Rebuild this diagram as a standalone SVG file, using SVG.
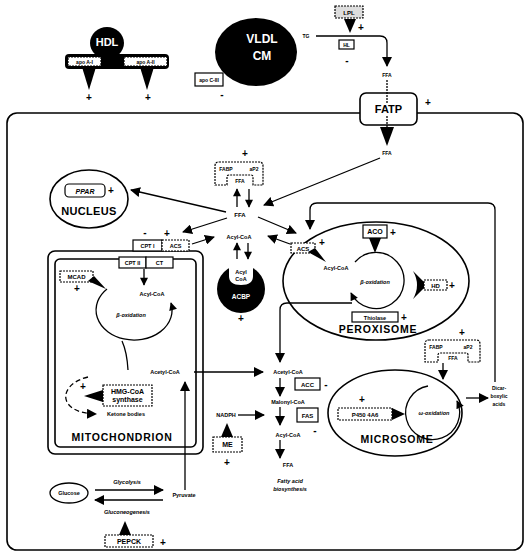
<svg xmlns="http://www.w3.org/2000/svg" width="529" height="553" viewBox="0 0 529 553">
<defs>
<marker id="ah" viewBox="0 0 10 10" refX="9" refY="5" markerWidth="9" markerHeight="8" markerUnits="userSpaceOnUse" orient="auto"><path d="M0,0 L10,5 L0,10 z" fill="#000"/></marker>
<marker id="ahb" viewBox="0 0 10 10" refX="9" refY="5" markerWidth="10" markerHeight="10" markerUnits="userSpaceOnUse" orient="auto"><path d="M0,0 L10,5 L0,10 z" fill="#000"/></marker>
</defs>
<style>
text{font-family:"Liberation Sans",Arial,sans-serif;font-weight:bold;fill:#000;text-anchor:middle}
.s{font-size:6px}
.m{font-size:7px}
.i{font-style:italic}
.w{fill:#fff}
.big{font-size:10.5px;letter-spacing:0.8px}
.sg{font-size:10px}
.ln{fill:none;stroke:#000;stroke-width:1.3}
.box{fill:#fff;stroke:#000;stroke-width:1.2}
.dbox{fill:#fff;stroke:#000;stroke-width:1.2;stroke-dasharray:2,1}
.org{fill:none;stroke:#000;stroke-width:1.6}
.blk{fill:#000}
</style>
<rect width="529" height="553" fill="#fff"/>

<g id="cell"><rect x="7" y="113" width="516" height="437" rx="10" class="org"/></g>

<g id="hdl">
<ellipse cx="107" cy="43" rx="17" ry="16" class="blk"/>
<rect x="65" y="54" width="104" height="15" rx="4" class="blk"/>
<polygon points="82,67 96,67 89,90" class="blk"/>
<polygon points="140,67 154,67 147,90" class="blk"/>
<rect x="68" y="57" width="33" height="9" class="dbox"/>
<rect x="124" y="57" width="43" height="9" class="dbox"/>
<text x="107" y="46" class="w" style="font-size:11px">HDL</text>
<text x="84.5" y="63.5" class="s" style="font-size:5px">apo A-I</text>
<text x="145.5" y="63.5" class="s" style="font-size:5px">apo A-II</text>
<text x="89" y="101" class="sg">+</text>
<text x="148" y="101" class="sg">+</text>
</g>

<g id="vldl">
<ellipse cx="256" cy="52" rx="41" ry="34" class="blk"/>
<text x="262" y="43" class="w" style="font-size:12px">VLDL</text>
<text x="262" y="60" class="w" style="font-size:12px">CM</text>
<rect x="195" y="73" width="28" height="13" class="box"/>
<text x="209" y="81.5" class="s" style="font-size:5px">apo C-III</text>
<text x="222" y="98" class="sg">-</text>
</g>

<g id="lpl">
<rect x="335" y="6" width="28" height="12" class="dbox" style="fill:#ddd"/>
<text x="349" y="14.5" class="s">LPL</text>
<polygon points="344,19 356,19 350,33" class="blk"/>
<text x="361" y="31" class="sg">+</text>
</g>
<g id="hl">
<rect x="339" y="40" width="15" height="9" class="box"/>
<text x="346.5" y="46.5" class="s" style="font-size:5px">HL</text>
<text x="347" y="64" class="sg">-</text>
<text x="306" y="38" class="s" style="font-size:5px">TG</text>
<text x="387" y="77" class="s" style="font-size:5px">FFA</text>
</g>

<g id="fatp">
<rect x="360" y="93" width="57" height="32" rx="6" fill="#fff" stroke="#000" stroke-width="1.6"/>
<text x="388.5" y="113" style="font-size:11px">FATP</text>
<text x="428" y="106" class="sg">+</text>
<text x="387" y="155" class="s" style="font-size:5px">FFA</text>
</g>

<g id="nucleus">
<ellipse cx="89" cy="199" rx="39" ry="29" class="org"/>
<rect x="65" y="184" width="40" height="13" rx="4" class="box"/>
<text x="85" y="193.5" class="m i">PPAR</text>
<text x="111" y="194" class="sg">+</text>
<text x="89" y="215" class="big" style="font-size:11px;letter-spacing:0.3px">NUCLEUS</text>
</g>

<g id="fabp1">
<path d="M219,162 H259 Q263,162 263,166 V185 H253 V177 Q253,175 251,175 H229 Q227,175 227,177 V185 H215 V166 Q215,162 219,162 Z" class="dbox"/>
<text x="226" y="171" class="s" style="font-size:5px">FABP</text>
<text x="254" y="171" class="s" style="font-size:5px">aP2</text>
<text x="240" y="183" class="s" style="font-size:5px">FFA</text>
<text x="245" y="157" class="sg">+</text>
</g>

<g id="center">
<text x="240" y="217" class="s">FFA</text>
<text x="239" y="239" class="s" style="font-size:5.5px">Acyl-CoA</text>
</g>

<g id="acbp">
<circle cx="241" cy="289" r="24" class="blk"/>
<path d="M229,263 V276 Q229,285 241,285 Q253,285 253,276 V263 Z" fill="#fff"/>
<text x="241" y="274" class="s" style="font-size:5.5px">Acyl</text>
<text x="241" y="281" class="s" style="font-size:5.5px">CoA</text>
<text x="241" y="299" class="w s" style="font-size:6.5px">ACBP</text>
<text x="241" y="322" class="sg">+</text>
</g>

<g id="mitochondrion">
<rect x="48" y="251" width="155" height="203" rx="7" class="org"/>
<rect x="55" y="259" width="141" height="188" rx="5" class="org"/>
<rect x="133" y="240" width="29" height="11" class="box"/>
<text x="147.5" y="247.5" class="s" style="font-size:5.5px">CPT I</text>
<rect x="162" y="240" width="27" height="11" class="dbox"/>
<text x="175.5" y="247.5" class="s" style="font-size:5.5px">ACS</text>
<text x="145" y="236" class="sg">-</text>
<text x="167" y="237" class="sg">+</text>
<rect x="119" y="257" width="27" height="11" class="box"/>
<text x="132.5" y="264.5" class="s" style="font-size:5.5px">CPT II</text>
<rect x="146" y="257" width="27" height="11" class="box"/>
<text x="159.5" y="264.5" class="s" style="font-size:5.5px">CT</text>
<rect x="60" y="271" width="33" height="11" class="dbox"/>
<text x="76.5" y="279" class="s">MCAD</text>
<polygon points="88,281 94,276 106,289" class="blk"/>
<text x="77" y="292" class="sg">+</text>
<text x="152" y="296" class="s" style="font-size:5.5px">Acyl-CoA</text>
<text x="131" y="317" class="s i" style="font-size:5.5px">β-oxidation</text>
<text x="165" y="374" class="s" style="font-size:5.5px">Acetyl-CoA</text>
<rect x="103" y="385" width="49" height="21" class="dbox"/>
<text x="127.5" y="394" class="m">HMG-CoA</text>
<text x="127.5" y="402" class="m">synthase</text>
<polygon points="103,390 103,402 84,396" class="blk"/>
<text x="83" y="390" class="sg">+</text>
<text x="126" y="416" class="s" style="font-size:5.5px">Ketone bodies</text>
<text x="122" y="441" class="big">MITOCHONDRION</text>
</g>

<g id="peroxisome">
<ellipse cx="376" cy="281" rx="93" ry="59" class="org"/>
<rect x="291" y="243" width="24" height="10" class="dbox"/>
<text x="303" y="250.5" class="s">ACS</text>
<text x="322" y="246" class="sg">+</text>
<polygon points="308,252 315,248 326,262" class="blk"/>
<text x="336" y="270" class="s" style="font-size:5.5px">Acyl-CoA</text>
<rect x="363" y="225" width="24" height="13" class="box"/>
<text x="375" y="234" class="m">ACO</text>
<text x="393" y="236" class="sg">+</text>
<polygon points="369,238 381,238 375,253" class="blk"/>
<text x="375" y="284" class="s i" style="font-size:5.5px">β-oxidation</text>
<path d="M413,271 Q421,285 413,299 L427,285 Z" class="blk"/>
<rect x="424" y="280" width="23" height="10" class="dbox"/>
<text x="435.5" y="287.5" class="s">HD</text>
<text x="452" y="289" class="sg">+</text>
<rect x="352" y="312" width="46" height="10" class="box"/>
<text x="375" y="319.5" class="s" style="font-size:5.5px">Thiolase</text>
<text x="404" y="321" class="sg">+</text>
<text x="378" y="333" class="big">PEROXISOME</text>
</g>

<g id="fas">
<text x="288" y="374" class="s" style="font-size:5.5px">Acetyl-CoA</text>
<rect x="295" y="378" width="25" height="12" class="box"/>
<text x="307.5" y="386.5" class="s">ACC</text>
<text x="326" y="388" class="sg">-</text>
<text x="288" y="404" class="s" style="font-size:5.5px">Malonyl-CoA</text>
<rect x="297" y="408" width="21" height="14" class="box"/>
<text x="307.5" y="417.5" class="s">FAS</text>
<text x="288" y="437" class="s" style="font-size:5.5px">Acyl-CoA</text>
<text x="315" y="434" class="sg">-</text>
<text x="288" y="467" class="s" style="font-size:5.5px">FFA</text>
<text x="290" y="483" class="s i" style="font-size:5.5px">Fatty acid</text>
<text x="290" y="491" class="s i" style="font-size:5.5px">biosynthesis</text>
<text x="226" y="417" class="s" style="font-size:5.5px">NADPH</text>
</g>

<g id="me">
<polygon points="221,437 233,437 227,423" class="blk"/>
<rect x="213" y="437" width="29" height="15" class="dbox"/>
<text x="227.5" y="447" class="m">ME</text>
<text x="227" y="466" class="sg">+</text>
</g>

<g id="microsome">
<ellipse cx="395" cy="413" rx="67" ry="43" class="org"/>
<text x="362" y="403" class="sg">+</text>
<rect x="338" y="408" width="54" height="12" class="dbox"/>
<text x="365" y="416.5" class="s">P450 4A6</text>
<polygon points="392,408 392,420 405,414" class="blk"/>
<text x="434" y="415" class="s i" style="font-size:5.5px">ω-oxidation</text>
<text x="397" y="443" class="big">MICROSOME</text>
</g>

<g id="fabp2">
<path d="M429,340 H476 Q480,340 480,344 V362 H468 V355 Q468,353 466,353 H440 Q438,353 438,355 V362 H425 V344 Q425,340 429,340 Z" class="dbox"/>
<text x="436" y="349" class="s" style="font-size:5px">FABP</text>
<text x="468" y="349" class="s" style="font-size:5px">aP2</text>
<text x="453" y="360" class="s" style="font-size:5px">FFA</text>
<text x="462" y="336" class="sg">+</text>
</g>

<g id="dicarboxylic">
<text x="499" y="390" class="s" style="font-size:5px">Dicar-</text>
<text x="499" y="398" class="s" style="font-size:5px">boxylic</text>
<text x="499" y="406" class="s" style="font-size:5px">acids</text>
</g>

<g id="glucose">
<ellipse cx="69" cy="493" rx="19" ry="10" class="org" style="stroke-width:1.3"/>
<text x="69" y="495" class="s" style="font-size:5.5px">Glucose</text>
<text x="127" y="484" class="s i" style="font-size:5.5px">Glycolysis</text>
<text x="127" y="514" class="s i" style="font-size:5.5px">Gluconeogenesis</text>
<text x="184" y="497" class="s" style="font-size:5.5px">Pyruvate</text>
</g>

<g id="pepck">
<polygon points="119,535 131,535 125,521" class="blk"/>
<rect x="105" y="535" width="48" height="12" class="dbox"/>
<text x="129" y="543.5" class="m">PEPCK</text>
<text x="163" y="546" class="sg">+</text>
</g>

<g id="connectors">
<path d="M316,36 H380 Q387,36 387,43 V66" class="ln" marker-end="url(#ahb)"/>
<line x1="387" y1="80" x2="387" y2="104" class="ln" stroke-dasharray="2,1"/>
<line x1="387" y1="116" x2="387" y2="128" class="ln" stroke-dasharray="2,1"/>
<polygon points="380,127 394,127 387,146" class="blk"/>
<line x1="380" y1="158" x2="264" y2="205" class="ln" marker-end="url(#ahb)"/>
<line x1="226" y1="212" x2="131" y2="190" class="ln" marker-end="url(#ahb)"/>
<line x1="227" y1="218" x2="183" y2="232" class="ln" marker-end="url(#ahb)"/>
<line x1="258" y1="217" x2="296" y2="233" class="ln" marker-end="url(#ahb)"/>
<line x1="192" y1="244" x2="214" y2="237" class="ln" marker-end="url(#ahb)"/>
<line x1="290" y1="244" x2="268" y2="236" class="ln" marker-end="url(#ahb)"/>
<line x1="237" y1="207" x2="237" y2="189" class="ln" marker-end="url(#ah)"/>
<line x1="249" y1="189" x2="249" y2="207" class="ln" marker-end="url(#ah)"/>
<line x1="237" y1="259" x2="237" y2="243" class="ln" marker-end="url(#ah)"/>
<line x1="248" y1="243" x2="248" y2="259" class="ln" marker-end="url(#ah)"/>
<line x1="144" y1="269" x2="144" y2="285" class="ln" marker-end="url(#ah)"/>
<path d="M107,289 A38,30 0 1 0 171,303" class="ln" marker-end="url(#ah)"/>
<path d="M122,341 Q127,352 128,370" class="ln"/>
<line x1="194" y1="372" x2="263" y2="372" class="ln" marker-end="url(#ahb)"/>
<line x1="185" y1="490" x2="185" y2="382" class="ln" marker-end="url(#ahb)"/>
<path d="M88,377 C58,384 56,413 96,414" class="ln" stroke-dasharray="5,3" marker-end="url(#ahb)"/>
<path d="M352,303 H287 Q280,303 280,310 V362" class="ln" marker-end="url(#ahb)"/>
<line x1="280" y1="378" x2="280" y2="396" class="ln" marker-end="url(#ahb)"/>
<line x1="280" y1="407" x2="280" y2="425" class="ln" marker-end="url(#ahb)"/>
<line x1="280" y1="440" x2="280" y2="458" class="ln" marker-end="url(#ahb)"/>
<line x1="238" y1="415" x2="264" y2="415" class="ln" marker-end="url(#ahb)"/>
<path d="M495,382 V210 Q495,203 488,203 H317 Q310,203 310,210 V229" class="ln" marker-end="url(#ahb)"/>
<line x1="443" y1="363" x2="443" y2="379" class="ln" marker-end="url(#ahb)"/>
<line x1="466" y1="398" x2="488" y2="398" class="ln" marker-end="url(#ahb)"/>
<path d="M428,386 A27,27 0 1 0 457,401" class="ln" marker-end="url(#ah)"/>
<path d="M355,262 A28,28 0 1 1 351,293" class="ln" marker-end="url(#ah)"/>
<line x1="95" y1="490" x2="163" y2="490" class="ln" marker-end="url(#ahb)"/>
<line x1="163" y1="500" x2="95" y2="500" class="ln" marker-end="url(#ahb)"/>
</g>
</svg>
